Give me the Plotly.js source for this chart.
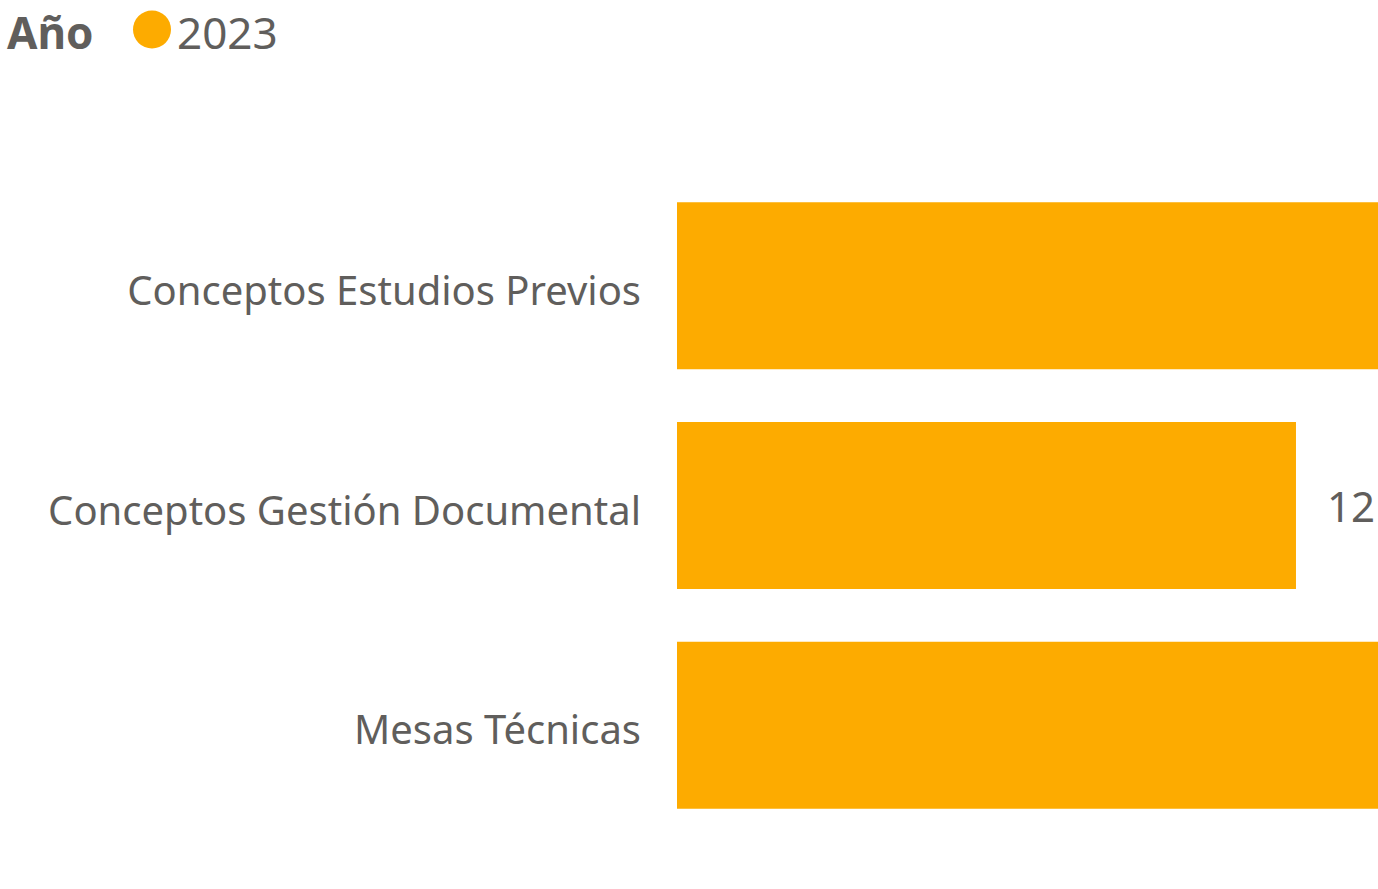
<!DOCTYPE html>
<html>
<head>
<meta charset="utf-8">
<script src="https://cdn.plot.ly/plotly-3.0.1.min.js"></script>
<style>
  html, body { margin: 0; padding: 0; background: #fff; }
  #chart { width: 1378px; height: 889px; }
</style>
</head>
<body>
<div id="chart"></div>
<script>
// categorías y valores (las barras 1 y 3 se salen del visual, su valor no se ve)
const categorias = ['Conceptos Estudios Previos', 'Conceptos Gestión Documental', 'Mesas Técnicas'];
const valores2023 = [15, 12, 15];
const serie = '2023';
const tituloLeyenda = 'Año';

const naranja = '#FDAB00';
const gris = '#605E5C';
const fuente = '"Segoe UI", "Noto Sans", "Open Sans", sans-serif';
const xMax = 13.59;

const traza = {
    type: 'bar',
    orientation: 'h',
    y: categorias,
    x: valores2023,
    name: serie,
    marker: { color: naranja },
    // etiqueta solo donde cabe dentro del visual
    text: valores2023.map(v => v <= xMax ? '\u2002\u2009' + v : ''),
    texttemplate: '%{text}',
    textposition: 'outside',
    cliponaxis: true,
    textfont: { family: fuente, size: 42, color: gris },
    hoverinfo: 'y+x',
    showlegend: false
};

const layout = {
    width: 1378,
    height: 889,
    margin: { l: 677, r: 0, t: 175.5, b: 53.5 },
    paper_bgcolor: '#fff',
    plot_bgcolor: '#fff',
    bargap: 0.24,
    font: { family: fuente, color: gris },
    xaxis: {
        range: [0, xMax],
        visible: false,
        fixedrange: true
    },
    yaxis: {
        autorange: 'reversed',
        showgrid: false,
        zeroline: false,
        showline: false,
        ticks: 'outside',
        ticklen: 27,
        tickcolor: 'rgba(0,0,0,0)',
        ticklabelshift: -5,
        tickfont: { family: fuente, size: 40, color: gris }
    },
    shapes: [{
        type: 'circle',
        xref: 'paper', yref: 'paper',
        xsizemode: 'pixel', ysizemode: 'pixel',
        xanchor: 0, yanchor: 1,
        x0: -544, x1: -506, y0: 127.5, y1: 165.5,
        fillcolor: naranja,
        line: { width: 0 }
    }],
    annotations: [
        {
            text: '<b>' + tituloLeyenda + '</b>',
            xref: 'paper', yref: 'paper',
            x: (5 - 677) / 701, y: 1 + (175.5 - 31) / 660,
            xanchor: 'left', yanchor: 'middle',
            showarrow: false,
            font: { family: fuente, size: 44, color: gris }
        },
        {
            text: serie,
            xref: 'paper', yref: 'paper',
            x: (175 - 677) / 701, y: 1 + (175.5 - 31) / 660,
            xanchor: 'left', yanchor: 'middle',
            showarrow: false,
            font: { family: fuente, size: 44, color: gris }
        }
    ]
};

Plotly.newPlot('chart', [traza], layout, { displayModeBar: false, staticPlot: true });
</script>
</body>
</html>
